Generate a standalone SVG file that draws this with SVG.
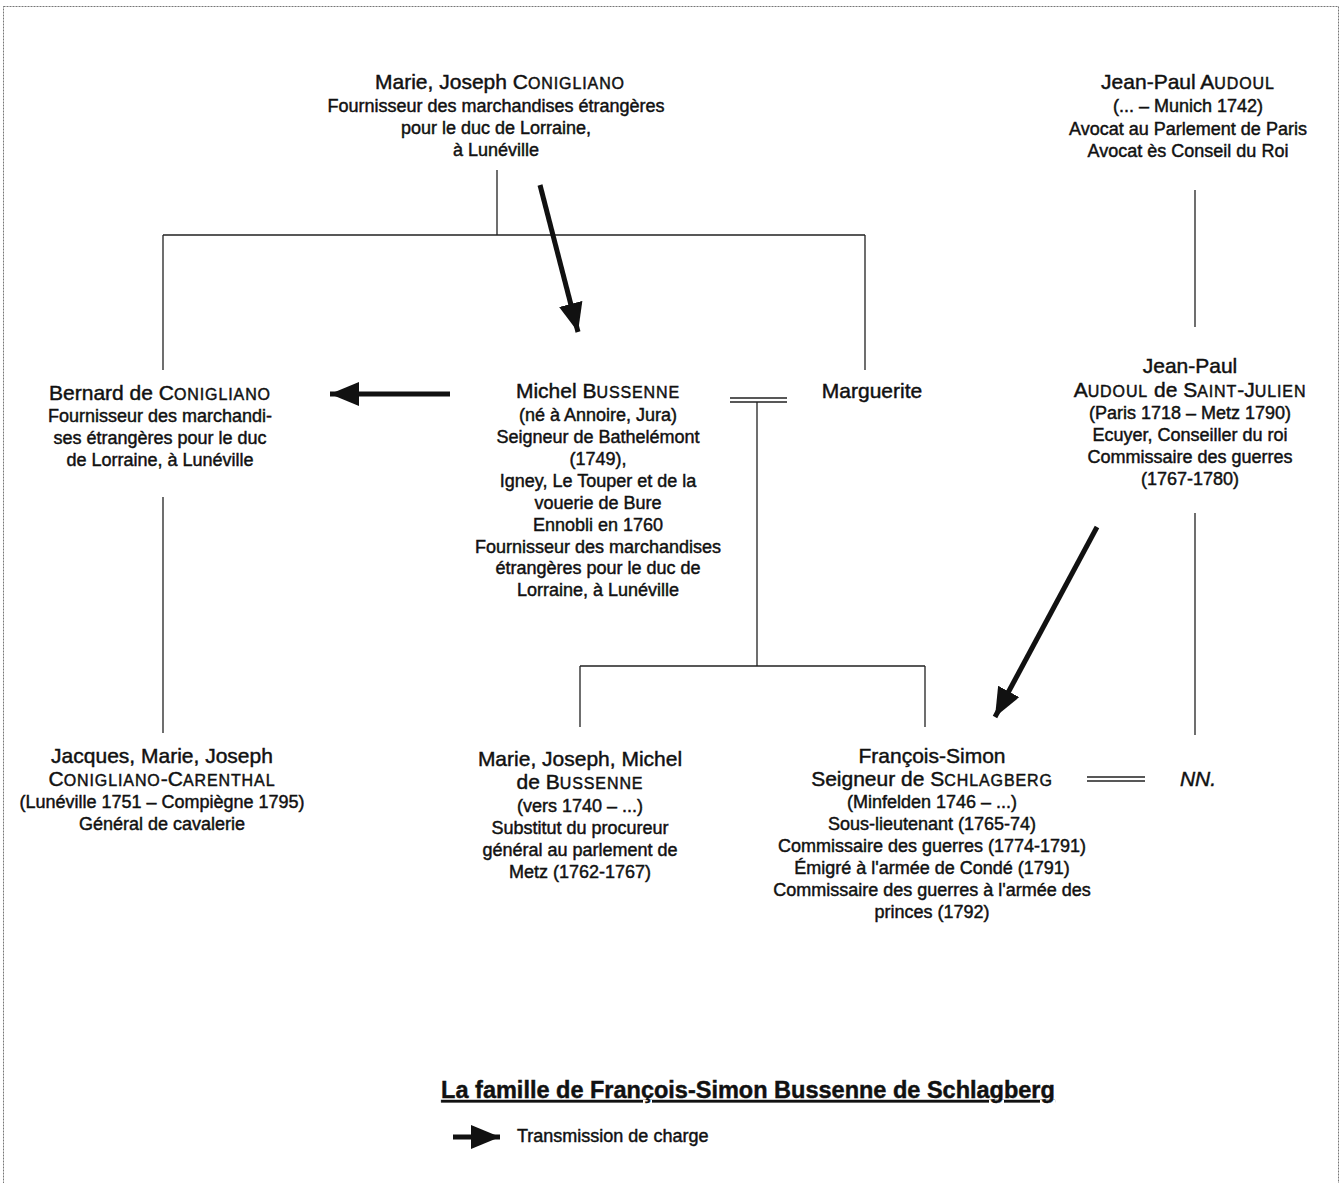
<svg xmlns="http://www.w3.org/2000/svg" width="1343" height="1183" viewBox="0 0 1343 1183">
<style>
text{font-family:"Liberation Sans",Arial,sans-serif;fill:#111;text-anchor:middle;stroke:#111;stroke-width:0.45}
.n{font-size:21px}
.d{font-size:18px}
.sc{font-size:16px;letter-spacing:0.9px}
.ln{stroke:#222;stroke-width:1.3;fill:none}
.ar{stroke:#111;stroke-width:5;fill:none}
</style>
<defs>
<marker id="ah" markerUnits="userSpaceOnUse" markerWidth="32" markerHeight="26" refX="29" refY="12" orient="auto">
<path d="M0,0 L29,12 L0,24 Z" fill="#111"/>
</marker>
</defs>
<rect x="3.5" y="6.5" width="1335" height="1190" fill="none" stroke="#777" stroke-width="1" stroke-dasharray="2,1"/>
<g id="connectors">
<path class="ln" d="M497,170 V235 M163,235 H865 M163,235 V370 M865,235 V370"/>
<path class="ln" d="M1195,190 V327 M1195,513 V735 M163,497 V733"/>
<path class="ln" d="M730,398 H787 M730,402 H787 M757,402 V666 M580,666 H925 M580,666 V727 M925,666 V727"/>
<path class="ln" d="M1087,777 H1145 M1087,781 H1145"/>
<line class="ar" x1="540" y1="185" x2="578" y2="332" marker-end="url(#ah)"/>
<line class="ar" x1="450" y1="394" x2="330" y2="394" marker-end="url(#ah)"/>
<line class="ar" x1="1097" y1="527" x2="995" y2="717" marker-end="url(#ah)"/>
</g>
<g id="marie-joseph-conigliano">
<text x="500" y="89" class="n">Marie, Joseph C<tspan class="sc">ONIGLIANO</tspan></text>
<text x="496" y="112" class="d">Fournisseur des marchandises étrangères</text>
<text x="496" y="134" class="d">pour le duc de Lorraine,</text>
<text x="496" y="156" class="d">à Lunéville</text>
</g>
<g id="jean-paul-audoul">
<text x="1188" y="89" class="n">Jean-Paul A<tspan class="sc">UDOUL</tspan></text>
<text x="1188" y="112" class="d">(... – Munich 1742)</text>
<text x="1188" y="135" class="d">Avocat au Parlement de Paris</text>
<text x="1188" y="157" class="d">Avocat ès Conseil du Roi</text>
</g>
<g id="bernard-de-conigliano">
<text x="160" y="400" class="n">Bernard de C<tspan class="sc">ONIGLIANO</tspan></text>
<text x="160" y="422" class="d">Fournisseur des marchandi-</text>
<text x="160" y="444" class="d">ses étrangères pour le duc</text>
<text x="160" y="466" class="d">de Lorraine, à Lunéville</text>
</g>
<g id="michel-bussenne">
<text x="598" y="398" class="n">Michel B<tspan class="sc">USSENNE</tspan></text>
<text x="598" y="421" class="d">(né à Annoire, Jura)</text>
<text x="598" y="443" class="d">Seigneur de Bathelémont</text>
<text x="598" y="465" class="d">(1749),</text>
<text x="598" y="487" class="d">Igney, Le Touper et de la</text>
<text x="598" y="509" class="d">vouerie de Bure</text>
<text x="598" y="531" class="d">Ennobli en 1760</text>
<text x="598" y="553" class="d">Fournisseur des marchandises</text>
<text x="598" y="574" class="d">étrangères pour le duc de</text>
<text x="598" y="596" class="d">Lorraine, à Lunéville</text>
</g>
<g id="marguerite">
<text x="872" y="398" class="n">Marguerite</text>
</g>
<g id="jean-paul-audoul-de-saint-julien">
<text x="1190" y="373" class="n">Jean-Paul</text>
<text x="1190" y="397" class="n">A<tspan class="sc">UDOUL</tspan> de S<tspan class="sc">AINT</tspan>-J<tspan class="sc">ULIEN</tspan></text>
<text x="1190" y="419" class="d">(Paris 1718 – Metz 1790)</text>
<text x="1190" y="441" class="d">Ecuyer, Conseiller du roi</text>
<text x="1190" y="463" class="d">Commissaire des guerres</text>
<text x="1190" y="485" class="d">(1767-1780)</text>
</g>
<g id="jacques-marie-joseph">
<text x="162" y="763" class="n">Jacques, Marie, Joseph</text>
<text x="162" y="786" class="n">C<tspan class="sc">ONIGLIANO</tspan>-C<tspan class="sc">ARENTHAL</tspan></text>
<text x="162" y="808" class="d">(Lunéville 1751 – Compiègne 1795)</text>
<text x="162" y="830" class="d">Général de cavalerie</text>
</g>
<g id="marie-joseph-michel">
<text x="580" y="766" class="n">Marie, Joseph, Michel</text>
<text x="580" y="789" class="n">de B<tspan class="sc">USSENNE</tspan></text>
<text x="580" y="812" class="d">(vers 1740 – ...)</text>
<text x="580" y="834" class="d">Substitut du procureur</text>
<text x="580" y="856" class="d">général au parlement de</text>
<text x="580" y="878" class="d">Metz (1762-1767)</text>
</g>
<g id="francois-simon">
<text x="932" y="763" class="n">François-Simon</text>
<text x="932" y="786" class="n">Seigneur de S<tspan class="sc">CHLAGBERG</tspan></text>
<text x="932" y="808" class="d">(Minfelden 1746 – ...)</text>
<text x="932" y="830" class="d">Sous-lieutenant (1765-74)</text>
<text x="932" y="852" class="d">Commissaire des guerres (1774-1791)</text>
<text x="932" y="874" class="d">Émigré à l'armée de Condé (1791)</text>
<text x="932" y="896" class="d">Commissaire des guerres à l'armée des</text>
<text x="932" y="918" class="d">princes (1792)</text>
</g>
<g id="nn">
<text x="1198" y="786" class="n" font-style="italic">NN.</text>
</g>
<g id="legend">
<text x="748" y="1098" font-size="23.5" font-weight="bold" text-decoration="underline">La famille de François-Simon Bussenne de Schlagberg</text>
<line class="ar" x1="453" y1="1137" x2="500" y2="1137" marker-end="url(#ah)"/>
<text x="517" y="1142" class="d" style="text-anchor:start">Transmission de charge</text>
</g>
</svg>
